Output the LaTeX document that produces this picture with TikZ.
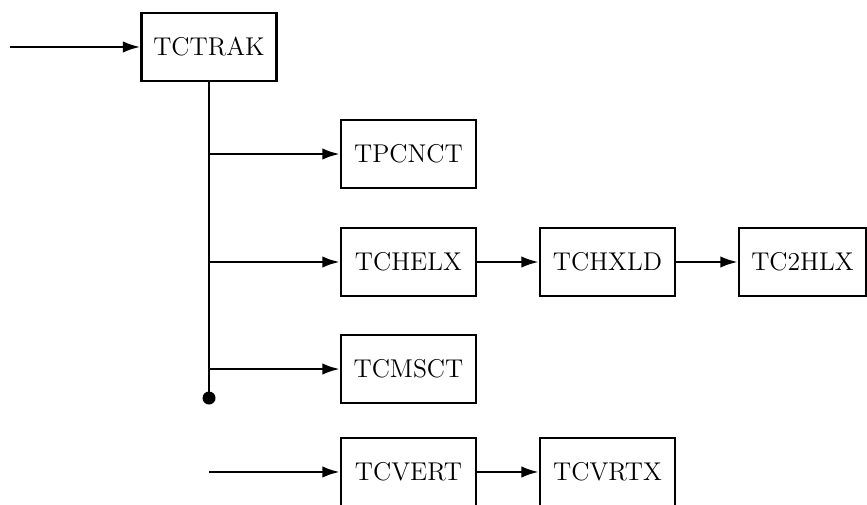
\documentclass[tikz,border=0pt]{standalone}
\usetikzlibrary{arrows.meta}
\tikzset{
  routine/.style={draw,line width=1.3pt,minimum width=2.49cm,minimum height=1.255cm,inner sep=2pt,font=\fontsize{13.5}{16}\selectfont},
  call/.style={->,line width=1.3pt}
}
\begin{document}
\begin{tikzpicture}[>={Latex[length=3.2mm,width=2.1mm]},x=1.0cm,y=1.0cm]
		\useasboundingbox (0,0) rectangle (16,-9.319);
		\node[routine] (trak) at (3.857,-0.867) {TCTRAK};
		\node[routine] (pcnct) at (7.538,-2.842) {TPCNCT};
		\node[routine] (helx) at (7.538,-4.835) {TCHELX};
		\node[routine] (hxld) at (11.211,-4.835) {TCHXLD};
		\node[routine,minimum width=2.344cm] (hlx) at (14.809,-4.835) {TC2HLX};
		\node[routine] (msct) at (7.538,-6.810) {TCMSCT};
		\node[routine] (vert) at (7.538,-8.710) {TCVERT};
		\node[routine] (vrtx) at (11.211,-8.710) {TCVRTX};
		\coordinate (in) at (0.185,-0.867);
		\coordinate (end) at (3.857,-7.345);
		\coordinate (vin) at (3.857,-8.710);
		% main call tree
		\draw[call] (in) -- (trak);
		\draw[line width=1.3pt] (trak.south) -- (end);
		\fill (end) circle (0.12);
		\draw[call] (trak.south |- pcnct) -- (pcnct);
		\draw[call] (trak.south |- helx) -- (helx);
		\draw[call] (helx) -- (hxld);
		\draw[call] (hxld) -- (hlx);
		\draw[call] (trak.south |- msct) -- (msct);
		% vertex chain
		\draw[call] (vin) -- (vert);
		\draw[call] (vert) -- (vrtx);
\end{tikzpicture}
\end{document}
